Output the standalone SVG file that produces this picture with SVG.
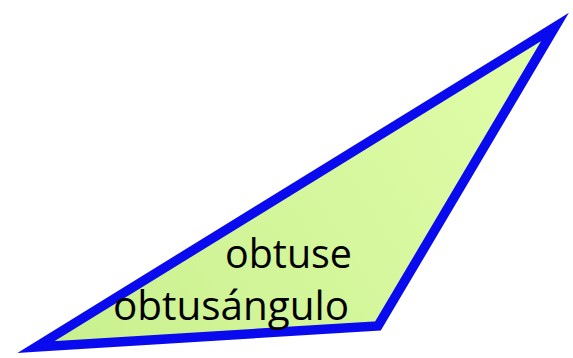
<svg xmlns="http://www.w3.org/2000/svg" width="573" height="358" viewBox="0 0 573 358">
  <defs>
    <linearGradient id="fillGrad" gradientUnits="userSpaceOnUse" x1="40" y1="347" x2="556" y2="27">
      <stop offset="0" stop-color="#c8f08e"/>
      <stop offset="1" stop-color="#e2fdaa"/>
    </linearGradient>
    <style>
      .tri { fill: url(#fillGrad); stroke: #0a0aee; stroke-width: 9.5; stroke-linejoin: miter; stroke-miterlimit: 10; }
      .lbl { font-family: "Open Sans", "Liberation Sans", sans-serif; font-size: 40px; fill: #000000; }
    </style>
  </defs>
  <g id="triangle">
    <polygon class="tri" points="36,347 378,326 555,27"/>
  </g>
  <g id="labels">
    <text class="lbl" x="225" y="268" textLength="127" lengthAdjust="spacingAndGlyphs">obtuse</text>
    <text class="lbl" x="113" y="320" textLength="236" lengthAdjust="spacingAndGlyphs">obtusángulo</text>
  </g>
</svg>
